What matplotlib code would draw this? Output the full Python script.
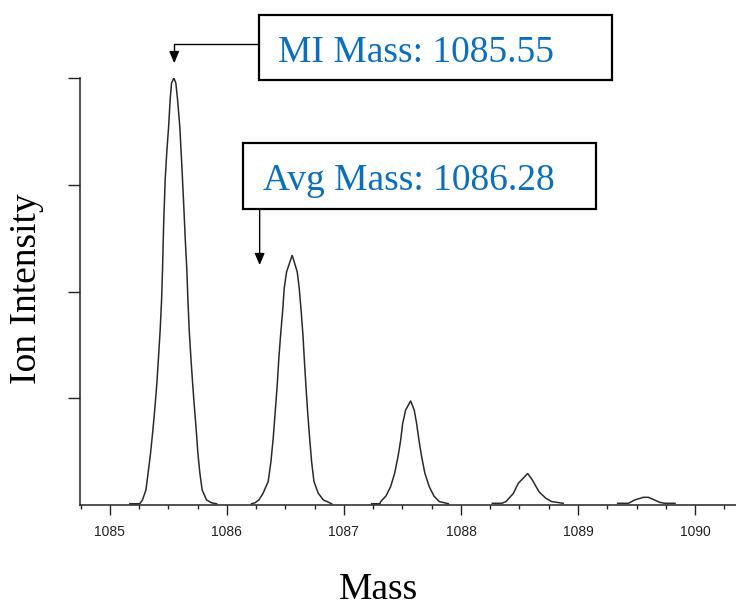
import matplotlib
matplotlib.use('Agg')
import matplotlib.pyplot as plt
from matplotlib.patches import Rectangle
from matplotlib.ticker import MultipleLocator

# isotope peaks: mass vs relative intensity (%)
peak1_mass = [1085.171, 1085.256, 1085.279, 1085.308, 1085.327, 1085.348, 1085.368, 1085.387,
              1085.402, 1085.416, 1085.430, 1085.442, 1085.450, 1085.460, 1085.473, 1085.487,
              1085.502, 1085.515, 1085.527, 1085.547, 1085.564, 1085.579, 1085.598, 1085.615,
              1085.632, 1085.644, 1085.658, 1085.667, 1085.678, 1085.692, 1085.707, 1085.721,
              1085.738, 1085.752, 1085.769, 1085.789, 1085.826, 1085.869, 1085.912]
peak1_int = [0.3, 0.3, 1.2, 3.5, 7.5, 12.2, 17.6, 23.4,
             28.6, 34.7, 41.0, 48.0, 55.0, 66.0, 76.3, 82.9,
             88.5, 94.8, 98.8, 100.0, 98.8, 94.8, 88.5, 79.6,
             69.8, 62.5, 55.0, 48.0, 41.0, 34.7, 28.6, 23.4,
             17.6, 12.2, 7.5, 3.5, 1.2, 0.5, 0.3]

peak2_mass = [1086.211, 1086.239, 1086.274, 1086.310, 1086.353, 1086.376, 1086.396, 1086.413,
              1086.430, 1086.444, 1086.459, 1086.476, 1086.490, 1086.510, 1086.558, 1086.601,
              1086.618, 1086.635, 1086.650, 1086.661, 1086.675, 1086.690, 1086.707, 1086.724,
              1086.744, 1086.780, 1086.823, 1086.895]
peak2_int = [0.3, 0.5, 1.2, 2.8, 5.5, 10.1, 15.7, 21.8,
             28.1, 34.4, 39.8, 45.3, 50.8, 54.6, 58.5, 54.6,
             50.8, 45.3, 39.8, 34.4, 28.1, 21.8, 15.7, 10.1,
             5.5, 2.8, 1.2, 0.3]

peak3_mass = [1087.237, 1087.308, 1087.314, 1087.359, 1087.399, 1087.433, 1087.462, 1087.485,
              1087.502, 1087.527, 1087.570, 1087.601, 1087.621, 1087.641, 1087.664, 1087.692,
              1087.729, 1087.769, 1087.815, 1087.892]
peak3_int = [0.3, 0.3, 0.8, 2.1, 4.3, 7.4, 11.3, 15.2,
             19.1, 22.2, 24.4, 22.2, 19.1, 15.2, 11.3, 7.4,
             4.3, 2.1, 0.8, 0.3]

peak4_mass = [1088.268, 1088.348, 1088.385, 1088.447, 1088.490, 1088.533, 1088.570, 1088.609,
              1088.667, 1088.724, 1088.775, 1088.874]
peak4_int = [0.4, 0.4, 0.8, 2.7, 5.1, 6.3, 7.4, 5.9, 3.1, 1.6, 0.8, 0.4]

peak5_mass = [1089.339, 1089.430, 1089.487, 1089.558, 1089.601, 1089.644, 1089.701, 1089.744, 1089.829]
peak5_int = [0.4, 0.4, 1.2, 1.8, 1.8, 1.3, 0.6, 0.4, 0.4]

mi_mass = 1085.55
avg_mass = 1086.28
mi_label = 'MI Mass: 1085.55'
avg_label = 'Avg Mass: 1086.28'

W, H = 736, 607
fig = plt.figure(figsize=(W / 100, H / 100), dpi=100)
ax = fig.add_axes([80 / W, 1 - 505 / H, 656 / W, 427 / H])

line_kw = dict(color='#2a2a2a', lw=1.1, solid_joinstyle='miter')
for m, i in [(peak1_mass, peak1_int), (peak2_mass, peak2_int), (peak3_mass, peak3_int),
             (peak4_mass, peak4_int), (peak5_mass, peak5_int)]:
    ax.plot(m, i, **line_kw)

ax.set_xlim(1084.745, 1090.35)
ax.set_ylim(0, 100)
ax.spines['top'].set_visible(False)
ax.spines['right'].set_visible(False)
for s in ['left', 'bottom']:
    ax.spines[s].set_linewidth(1.1)
    ax.spines[s].set_color('#222222')

ax.xaxis.set_major_locator(MultipleLocator(1))
ax.xaxis.set_minor_locator(MultipleLocator(0.25))
ax.set_yticks([25, 50, 75, 100])
ax.set_yticklabels([])
ax.tick_params(axis='x', which='major', direction='out', length=7.5, width=1.0,
               color='#222222', pad=7, labelsize=10, labelcolor='#222222')
ax.tick_params(axis='x', which='minor', direction='out', length=3, width=1.0, color='#222222')
ax.tick_params(axis='y', direction='out', length=9, width=1.0, color='#222222')
for lab in ax.get_xticklabels():
    lab.set_family('Liberation Sans')

serif = 'Liberation Serif'
fig.text(378 / W, 1 - 599 / H, 'Mass', family=serif, fontsize=27, ha='center', va='baseline')
fig.text(27 / W, 1 - 289 / H, 'Ion Intensity', family=serif, fontsize=27,
         rotation=90, ha='center', va='center')

blue = '#0b6fc0'
# label boxes
fig.patches.append(Rectangle((259 / W, 1 - 80 / H), 353 / W, 65 / H, transform=fig.transFigure,
                             fill=False, lw=1.6, ec='black'))
fig.text(278 / W, 1 - 62 / H, mi_label, family=serif, fontsize=27, color=blue, va='baseline')
fig.patches.append(Rectangle((243 / W, 1 - 209 / H), 353 / W, 66 / H, transform=fig.transFigure,
                             fill=False, lw=1.6, ec='black'))
fig.text(263 / W, 1 - 190 / H, avg_label, family=serif, fontsize=27, color=blue, va='baseline')

arrow = dict(arrowstyle='-|>,head_length=0.7,head_width=0.3', color='black', lw=1.0,
             shrinkA=0, shrinkB=0, mutation_scale=10)
ax.annotate('', xy=(mi_mass, 103.5), xycoords='data',
            xytext=(259 / W, 1 - 44 / H), textcoords='figure fraction',
            arrowprops=dict(connectionstyle='angle,angleA=0,angleB=90,rad=0', **arrow),
            annotation_clip=False)
ax.annotate('', xy=(avg_mass, 56.2), xycoords='data',
            xytext=(avg_mass, 1 - 209 / H), textcoords=('data', 'figure fraction'),
            arrowprops=arrow, annotation_clip=False)

fig.savefig('out.png', dpi=100)
